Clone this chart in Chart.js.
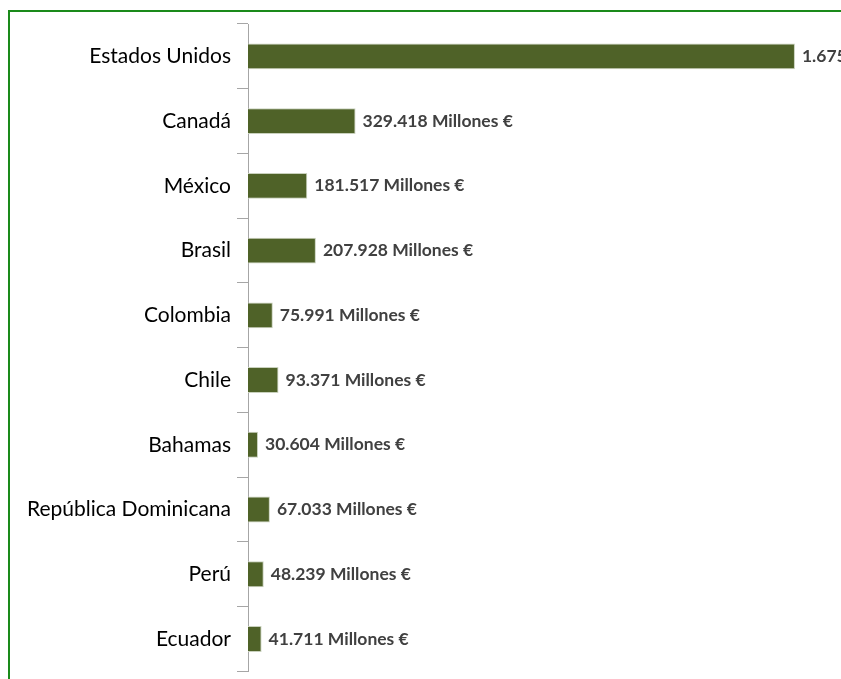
<!DOCTYPE html>
<html>
<head>
<meta charset="utf-8">
<script src="https://cdn.jsdelivr.net/npm/chart.js@4"></script>
<style>
    html, body { margin: 0; padding: 0; background: #fff; overflow: hidden; }
    #wrap { position: relative; width: 841px; height: 679px; overflow: hidden; }
    #frame { position: absolute; left: 8px; top: 10px; width: 900px; height: 700px; border: 2px solid #1a8a1a; box-sizing: border-box; }
    canvas { position: absolute; left: 0; top: 0; }
</style>
</head>
<body>
<div id="wrap">
    <div id="frame"></div>
    <canvas id="exportChart" width="841" height="690"></canvas>
</div>
<script>
const countries = ['Estados Unidos', 'Canadá', 'México', 'Brasil', 'Colombia', 'Chile', 'Bahamas', 'República Dominicana', 'Perú', 'Ecuador'];
const values = [1675000, 329418, 181517, 207928, 75991, 93371, 30604, 67033, 48239, 41711]; // millones €
const unit = 'Millones €';

// value labels to the right of each bar
const barLabels = {
    id: 'barLabels',
    afterDatasetsDraw(chart) {
        const ctx = chart.ctx;
        const meta = chart.getDatasetMeta(0);
        ctx.save();
        ctx.font = 'bold 17.5px Lato';
        ctx.fillStyle = '#404040';
        ctx.textBaseline = 'middle';
        meta.data.forEach((bar, i) => {
            const txt = values[i].toLocaleString('de-DE') + ' ' + unit;
            ctx.fillText(txt, bar.x + 7, bar.y);
        });
        ctx.restore();
    }
};

const ctx = document.getElementById('exportChart').getContext('2d');
const exportChart = new Chart(ctx, {
    type: 'bar',
    data: {
        labels: countries,
        datasets: [{
            data: values,
            backgroundColor: '#4f6228',
            borderColor: '#c9d1bd',
            borderWidth: 1,
            barPercentage: 0.8,
            categoryPercentage: 0.5
        }]
    },
    options: {
        indexAxis: 'y',
        responsive: false,
        animation: false,
        layout: { padding: { top: 24, bottom: 6, left: 0, right: 0 } },
        plugins: {
            legend: { display: false },
            tooltip: { enabled: false }
        },
        scales: {
            x: {
                display: false,
                min: 0,
                max: 1816000
            },
            y: {
                afterFit: (scale) => { scale.width = 248; },
                border: { display: true, color: '#a6a6a6', width: 1 },
                grid: {
                    offset: true,
                    drawOnChartArea: false,
                    drawTicks: true,
                    tickLength: 11,
                    color: '#a6a6a6'
                },
                ticks: {
                    color: '#000',
                    padding: 6,
                    font: { family: 'Lato', size: 21 }
                }
            }
        }
    },
    plugins: [barLabels]
});
</script>
</body>
</html>
